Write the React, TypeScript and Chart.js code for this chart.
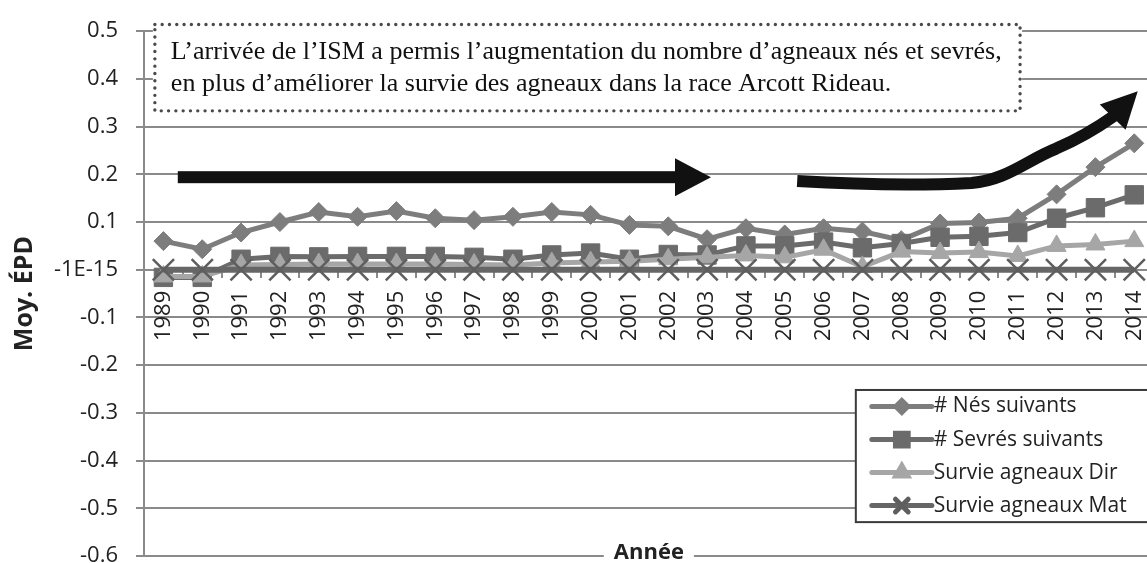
import React, { useEffect, useRef } from 'react';
import { Chart, registerables } from 'chart.js';
import { drawPoint } from 'chart.js/helpers';

Chart.register(...registerables);

// ---------- DATA ----------
const years = ['1989', '1990', '1991', '1992', '1993', '1994', '1995', '1996', '1997', '1998', '1999', '2000', '2001', '2002', '2003', '2004', '2005', '2006', '2007', '2008', '2009', '2010', '2011', '2012', '2013', '2014'];
const nesSuivants = [0.060, 0.043, 0.078, 0.100, 0.121, 0.111, 0.123, 0.108, 0.104, 0.111, 0.121, 0.115, 0.094, 0.091, 0.064, 0.087, 0.074, 0.087, 0.080, 0.062, 0.097, 0.099, 0.108, 0.158, 0.215, 0.265];
const sevresSuivants = [-0.016, -0.016, 0.022, 0.028, 0.027, 0.028, 0.028, 0.028, 0.026, 0.022, 0.031, 0.035, 0.022, 0.032, 0.031, 0.050, 0.050, 0.058, 0.046, 0.055, 0.068, 0.070, 0.078, 0.108, 0.130, 0.157];
const survieDir = [-0.014, -0.014, 0.010, 0.011, 0.012, 0.012, 0.012, 0.012, 0.011, 0.010, 0.014, 0.016, 0.018, 0.022, 0.026, 0.030, 0.026, 0.042, 0.006, 0.038, 0.035, 0.037, 0.029, 0.050, 0.053, 0.060];
const survieMat = [0, 0, 0, 0, 0, 0, 0, 0, 0, 0, 0, 0, 0, 0, 0, 0, 0, 0, 0, 0, 0, 0, 0, 0, 0, 0];
const seriesLabels = ['# Nés suivants', '# Sevrés suivants', 'Survie agneaux Dir', 'Survie agneaux Mat'];
const yMin = -0.6;
const yMax = 0.5;
const yStep = 0.1;
const yAxisTitle = 'Moy. ÉPD';
const xAxisTitle = 'Année';
const noteLines = [
  'L’arrivée de l’ISM a permis l’augmentation du nombre d’agneaux nés et sevrés,',
  'en plus d’améliorer la survie des agneaux dans la race Arcott Rideau.',
];

// annotation geometry in data coordinates: [category index, value]
const noteBox = { x0: -0.22, x1: 22.06, y0: 0.514, y1: 0.333 };
const arrowFlat = { x0: 0.37, x1: 14.1, y: 0.194 };
const arrowCurve = [
  [16.32, 0.186],
  [18.88, 0.174], [20.81, 0.182],
  [21.71, 0.188], [22.22, 0.229], [22.99, 0.254],
  [23.76, 0.281], [24.47, 0.322],
  [25.09, 0.374],
];
const legendBox = { x0: 17.83, y0: -0.252, y1: -0.529 };

const FONT = "'Open Sans', 'DejaVu Sans', sans-serif";
const SERIF = "'Liberation Serif', 'DejaVu Serif', serif";

const annotationPlugin = {
  id: 'annotations',
  afterDraw(chart: any) {
    const ctx = chart.ctx as CanvasRenderingContext2D;
    const xs = chart.scales.x;
    const ys = chart.scales.y;
    const px = (v: number) => xs.getPixelForValue(v);
    const py = (v: number) => ys.getPixelForValue(v);
    const area = chart.chartArea;

    // ----- note box -----
    ctx.save();
    const bx0 = px(noteBox.x0), bx1 = px(noteBox.x1), by0 = py(noteBox.y0), by1 = py(noteBox.y1);
    ctx.fillStyle = '#ffffff';
    ctx.fillRect(bx0 - 2, by0 - 2, bx1 - bx0 + 4, by1 - by0 + 4);
    ctx.strokeStyle = '#4a4a4a';
    ctx.lineWidth = 3.4;
    ctx.lineCap = 'round';
    ctx.setLineDash([0, 7.3]);
    ctx.strokeRect(bx0, by0, bx1 - bx0, by1 - by0);
    ctx.setLineDash([]);
    ctx.fillStyle = '#111111';
    ctx.font = `26px ${SERIF}`;
    ctx.textBaseline = 'alphabetic';
    ctx.textAlign = 'left';
    ctx.fillText(noteLines[0], bx0 + 16, by0 + 34);
    ctx.fillText(noteLines[1], bx0 + 16, by0 + 66);
    ctx.restore();

    // ----- flat arrow -----
    ctx.save();
    ctx.fillStyle = '#111111';
    ctx.strokeStyle = '#111111';
    const ay = py(arrowFlat.y);
    const ax0 = px(arrowFlat.x0), ax1 = px(arrowFlat.x1);
    const headL = 36, headW = 19;
    ctx.fillRect(ax0, ay - 6, ax1 - headL - ax0 + 1, 12);
    ctx.beginPath();
    ctx.moveTo(ax1, ay);
    ctx.lineTo(ax1 - headL, ay - headW);
    ctx.lineTo(ax1 - headL, ay + headW);
    ctx.closePath();
    ctx.fill();

    // ----- curved arrow -----
    const P = arrowCurve.map(([a, b]) => [px(a), py(b)]);
    ctx.lineWidth = 12;
    ctx.lineCap = 'butt';
    ctx.lineJoin = 'round';
    ctx.beginPath();
    ctx.moveTo(P[0][0], P[0][1]);
    ctx.quadraticCurveTo(P[1][0], P[1][1], P[2][0], P[2][1]);
    ctx.bezierCurveTo(P[3][0], P[3][1], P[4][0], P[4][1], P[5][0], P[5][1]);
    ctx.quadraticCurveTo(P[6][0], P[6][1], P[7][0], P[7][1]);
    ctx.stroke();
    const tip = P[8], base = P[7];
    const ang = Math.atan2(tip[1] - base[1], tip[0] - base[0]);
    const hl = 36, hw = 18;
    const bxh = tip[0] - Math.cos(ang) * hl, byh = tip[1] - Math.sin(ang) * hl;
    ctx.beginPath();
    ctx.moveTo(tip[0], tip[1]);
    ctx.lineTo(bxh + Math.sin(ang) * hw, byh - Math.cos(ang) * hw);
    ctx.lineTo(bxh - Math.sin(ang) * hw, byh + Math.cos(ang) * hw);
    ctx.closePath();
    ctx.fill();
    ctx.restore();

    // ----- x axis title over bottom gridline -----
    ctx.save();
    ctx.font = `bold 22px ${FONT}`;
    const tw = ctx.measureText(xAxisTitle).width;
    const cx = (area.left + area.right) / 2;
    ctx.fillStyle = '#ffffff';
    ctx.fillRect(cx - tw / 2 - 10, area.bottom - 14, tw + 20, 28);
    ctx.fillStyle = '#222222';
    ctx.textAlign = 'center';
    ctx.textBaseline = 'middle';
    ctx.fillText(xAxisTitle, cx, area.bottom - 3);
    ctx.restore();

    // ----- legend -----
    ctx.save();
    const lx0 = px(legendBox.x0), ly0 = py(legendBox.y0), ly1 = py(legendBox.y1);
    const lx1 = chart.width + 10;
    ctx.fillStyle = '#ffffff';
    ctx.fillRect(lx0, ly0, lx1 - lx0, ly1 - ly0);
    ctx.strokeStyle = '#3a3a3a';
    ctx.lineWidth = 2;
    ctx.strokeRect(lx0, ly0, lx1 - lx0, ly1 - ly0);
    const rowH = (ly1 - ly0) / 4;
    chart.data.datasets.forEach((ds: any, i: number) => {
      const yy = ly0 + rowH * (i + 0.5);
      const sx0 = lx0 + 16, sx1 = lx0 + 76;
      ctx.strokeStyle = ds.borderColor;
      ctx.lineWidth = 5;
      ctx.lineCap = 'round';
      ctx.beginPath();
      ctx.moveTo(sx0, yy);
      ctx.lineTo(sx1, yy);
      ctx.stroke();
      ctx.fillStyle = ds.pointBackgroundColor;
      ctx.strokeStyle = ds.pointBorderColor;
      drawPoint(ctx, { pointStyle: ds.pointStyle, rotation: 0, radius: ds.legendRadius, borderWidth: ds.legendBorder }, (sx0 + sx1) / 2, yy);
      ctx.fillStyle = '#222222';
      ctx.font = `21px ${FONT}`;
      ctx.textAlign = 'left';
      ctx.textBaseline = 'middle';
      ctx.fillText(ds.label, sx1 + 2, yy);
    });
    ctx.restore();
  },
};

export default function App() {
  const ref = useRef<HTMLCanvasElement | null>(null);

  useEffect(() => {
    if (!ref.current) return;
    const chart = new Chart(ref.current, {
      type: 'line',
      data: {
        labels: years,
        datasets: [
          {
            label: seriesLabels[0], data: nesSuivants,
            borderColor: '#7d7d7d', backgroundColor: '#7d7d7d',
            pointBackgroundColor: '#7d7d7d', pointBorderColor: '#7d7d7d',
            borderWidth: 5, pointStyle: 'rectRot', pointRadius: 9.5, pointBorderWidth: 1,
            legendRadius: 6, legendBorder: 1, order: 4,
          } as any,
          {
            label: seriesLabels[1], data: sevresSuivants,
            borderColor: '#6b6b6b', backgroundColor: '#6b6b6b',
            pointBackgroundColor: '#6b6b6b', pointBorderColor: '#6b6b6b',
            borderWidth: 5, pointStyle: 'rect', pointRadius: 13, pointBorderWidth: 1,
            legendRadius: 9, legendBorder: 1, order: 3,
          } as any,
          {
            label: seriesLabels[2], data: survieDir,
            borderColor: '#a6a6a6', backgroundColor: '#a6a6a6',
            pointBackgroundColor: '#a6a6a6', pointBorderColor: '#a6a6a6',
            borderWidth: 5, pointStyle: 'triangle', pointRadius: 11, pointBorderWidth: 1,
            legendRadius: 7, legendBorder: 1, order: 2,
          } as any,
          {
            label: seriesLabels[3], data: survieMat,
            borderColor: '#666666', backgroundColor: '#666666',
            pointBackgroundColor: '#666666', pointBorderColor: '#5e5e5e',
            borderWidth: 6, pointStyle: 'crossRot', pointRadius: 15, pointBorderWidth: 2.5,
            legendRadius: 9, legendBorder: 1.5, order: 1,
          } as any,
        ],
      },
      options: {
        responsive: false,
        animation: false,
        clip: false as any,
        layout: { padding: { top: 24, bottom: 34, left: 0, right: 17 } },
        plugins: { legend: { display: false }, tooltip: { enabled: false } },
        scales: {
          x: {
            type: 'category',
            position: { y: 0 } as any,
            offset: true,
            grid: { display: true, drawOnChartArea: false, drawTicks: true, tickLength: 7, color: '#8a8a8a', lineWidth: 2, offset: true },
            border: { display: true, color: '#8a8a8a', width: 2 },
            ticks: { autoSkip: false, minRotation: 90, maxRotation: 90, padding: 14, color: '#222222', font: { family: FONT, size: 22 } },
            afterFit: (s: any) => { s.height = 0; },
          },
          y: {
            min: yMin, max: yMax,
            ticks: {
              stepSize: yStep, padding: 18, color: '#222222', font: { family: FONT, size: 22 },
              callback: (v: any) => (Math.abs(Number(v)) < 1e-9 ? '-1E-15' : String(Math.round(Number(v) * 10) / 10)),
            },
            grid: { color: '#8a8a8a', lineWidth: 2, tickLength: 8 },
            border: { color: '#8a8a8a', width: 2 },
            title: { display: true, text: yAxisTitle, color: '#222222', font: { family: FONT, size: 25, weight: 'bold' }, padding: { top: 10, bottom: 0 } },
            afterFit: (s: any) => { s.width = 144; },
          },
        },
      },
      plugins: [annotationPlugin],
    });
    return () => chart.destroy();
  }, []);

  return (
    <div style={{ position: 'absolute', left: 0, top: 0, width: 1147, height: 563, overflow: 'hidden', background: '#ffffff' }}>
      <canvas ref={ref} width={1175} height={590} style={{ display: 'block' }} />
    </div>
  );
}
